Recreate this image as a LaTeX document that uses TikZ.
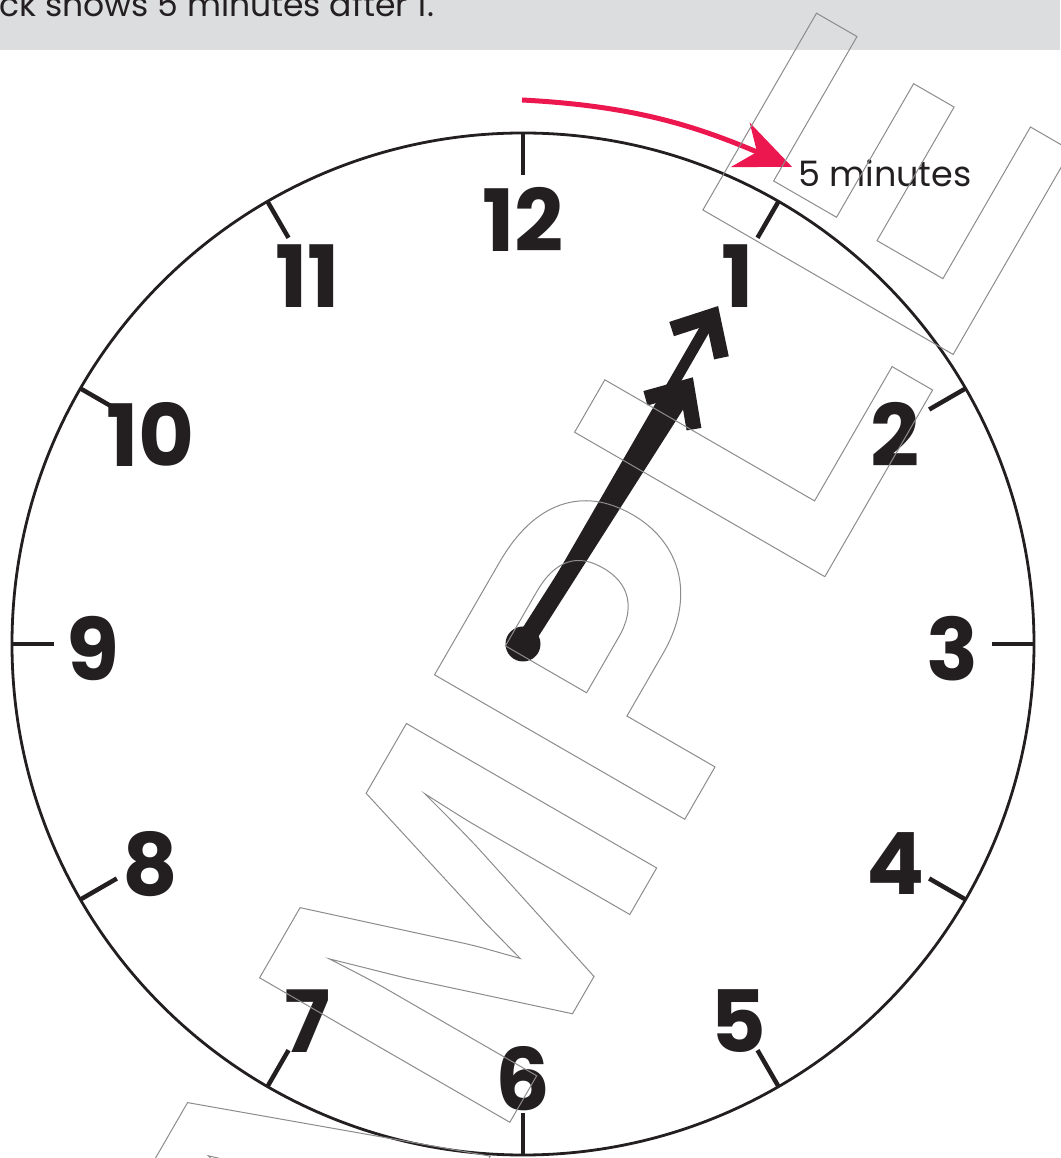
\documentclass[tikz,border=0pt]{standalone}
\usepackage{fontspec}
\setmainfont{Poppins}
\newfontfamily\wmfont{Liberation Sans}
\usetikzlibrary{arrows.meta}
\definecolor{minred}{RGB}{237,23,80}
\definecolor{banner}{RGB}{220,221,222}
\definecolor{ink}{RGB}{35,31,32}
\begin{document}
\begin{tikzpicture}[x=1pt,y=1pt,line cap=butt,font=\fontsize{33}{36}\selectfont]
\useasboundingbox (-523,-514) rectangle (537,644);
\def\R{511}
\tikzset{num/.style={font=\fontsize{86}{90}\selectfont\bfseries,text=ink,inner sep=0pt,yshift=-5pt},
  barb/.style={draw=ink,line width=15pt,miter limit=10}}
\fill[banner] (-523,594) rectangle (537,644);
\node[anchor=base west,inner sep=0pt,text=ink] (title) at (-524,627) {ck shows 5 minutes after 1.};
\draw[ink,line width=2.8pt] (0,0) circle (\R);
\foreach \h in {1,...,12}{
  \draw[ink,line width=4.5pt] (90-30*\h:\R) -- (90-30*\h:\R-42);
  \node[num] (n\h) at (90-30*\h:430) {\h};}
\foreach \a/\l/\w in {57.5/315/18,60/389/11}{
  \draw[ink,line width=\w pt] (0,0) -- (\a:\l-12);
  \draw[barb] (\a:\l-10) ++(\a+138:43) -- (\a:\l-10) -- ++(\a-138:43);}
\fill[ink] (0,0) circle (17.5);
\coordinate (from) at (-1,544);
\node[anchor=base west,inner sep=6pt,text=ink,font=\fontsize{35}{40}\selectfont] (five) at (269,457) {5 minutes};
\draw[minred,line width=5pt,-{Stealth[length=56pt,width=48pt,inset=18pt]}] (from) to[out=-3,in=157] ([yshift=7pt]five.west);
\node[rotate=60,anchor=base west,inner sep=0pt,font=\wmfont\bfseries\fontsize{420}{420}\selectfont] (wm) at (-319,-1008)
  {\special{pdf:literal direct 1 Tr 1 w 0.55 G}SAMPLE\special{pdf:literal direct 0 Tr 0 G}};
\end{tikzpicture}
\end{document}
